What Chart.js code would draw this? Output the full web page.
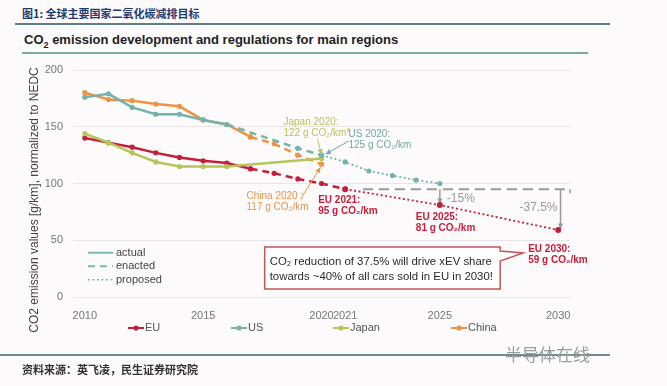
<!DOCTYPE html>
<html>
<head>
<meta charset="utf-8">
<script src="https://cdn.jsdelivr.net/npm/chart.js@4/dist/chart.umd.min.js"></script>
<style>
  body { margin: 0; width: 667px; height: 386px; overflow: hidden; position: relative; background: #fcfafb; font-family: "Liberation Sans", Arial, sans-serif; }
  #chart { position: absolute; left: 0; top: 0; }
  .abs { position: absolute; white-space: nowrap; }
  .rule { position: absolute; }
</style>
</head>
<body>
<div class="abs" style="left:22px;top:5px;font:bold 11px 'Noto Sans CJK SC';color:#1f3a6e;">图1: 全球主要国家二氧化碳减排目标</div>
<div class="rule" style="left:15px;top:23px;width:595px;height:2px;background:#5f7f86;"></div>
<div class="abs" style="left:24px;top:32px;font:bold 13px 'Liberation Sans';color:#222;">CO<sub style="font-size:9px">2</sub> emission development and regulations for main regions</div>
<div class="rule" style="left:22px;top:52px;width:566px;height:2px;background:#7aab9e;"></div>
<canvas id="chart" width="667" height="386"></canvas>
<div class="rule" style="left:0;top:354px;width:610px;height:2px;background:#6d8c8e;"></div>
<div class="abs" style="left:505px;top:341px;font:17px 'Noto Sans CJK SC';color:#9c9c9c;">半导体在线</div>
<div class="abs" style="left:22px;top:361px;font:bold 11px 'Noto Sans CJK SC';color:#333;">资料来源：英飞凌，民生证券研究院</div>
<script>
// ---- data ----
const xTicks = [2010, 2015, 2020, 2021, 2025, 2030];

const euYears = [2010, 2011, 2012, 2013, 2014, 2015, 2016, 2017];
const euActual = [140, 136, 132, 127, 123, 120, 118, 113];
const usYears = [2010, 2011, 2012, 2013, 2014, 2015, 2016];
const usActual = [176, 179, 167, 161, 161, 156, 152];
const japanYears = [2010, 2011, 2012, 2013, 2014, 2015, 2016, 2020];
const japanActual = [144, 136, 127, 119, 115, 115, 115, 122];
const chinaYears = [2010, 2011, 2012, 2013, 2014, 2015, 2016, 2017];
const chinaActual = [180, 174, 173, 170, 168, 156, 152, 141];

const euEnactedYears = [2017, 2018, 2019, 2020, 2021];
const euEnacted = [113, 109, 104, 100, 95];
const usEnactedYears = [2016, 2019, 2020];
const usEnacted = [152, 131, 125];
const chinaEnactedYears = [2017, 2018, 2019, 2020];
const chinaEnacted = [141, 135, 125, 117];

const usProposedYears = [2020, 2021, 2022, 2023, 2024, 2025];
const usProposed = [125, 119, 111, 107, 103, 100];
const euProposedYears = [2021, 2025, 2030];
const euProposed = [95, 81, 59];

const regions = ["EU", "US", "Japan", "China"];
const colors = { EU: "#c41e3a", US: "#74b3ab", Japan: "#b6c45a", China: "#eb9447" };

const pts = (xs, ys) => xs.map((v, i) => ({ x: v, y: ys[i] }));

function series(data, color, kind, extra) {
    const base = {
        data, borderColor: color, backgroundColor: color,
        pointRadius: 2.6, pointHoverRadius: 2.6, pointBorderWidth: 0,
        tension: 0, fill: false
    };
    if (kind === "actual") { base.borderWidth = 2.5; }
    if (kind === "enacted") { base.borderWidth = 2.5; base.borderDash = [7, 5]; }
    if (kind === "proposed") { base.borderWidth = 1.8; base.borderDash = [2, 2.5]; }
    return Object.assign(base, extra || {});
}

const arrowHead = (ctx, x1, y1, x2, y2, size) => {
    const a = Math.atan2(y2 - y1, x2 - x1);
    ctx.beginPath();
    ctx.moveTo(x2, y2);
    ctx.lineTo(x2 - size * Math.cos(a - 0.45), y2 - size * Math.sin(a - 0.45));
    ctx.lineTo(x2 - size * Math.cos(a + 0.45), y2 - size * Math.sin(a + 0.45));
    ctx.closePath();
    ctx.fill();
};

const arrow = (ctx, x1, y1, x2, y2, color, w) => {
    ctx.save();
    ctx.strokeStyle = color; ctx.fillStyle = color; ctx.lineWidth = w || 1;
    ctx.beginPath(); ctx.moveTo(x1, y1); ctx.lineTo(x2, y2); ctx.stroke();
    arrowHead(ctx, x1, y1, x2, y2, 6);
    ctx.restore();
};

const textLines = (ctx, lines, x, y, color, font, gap) => {
    ctx.save();
    ctx.fillStyle = color; ctx.font = font;
    ctx.textBaseline = "middle"; ctx.textAlign = "left";
    lines.forEach((t, i) => ctx.fillText(t, x, y + i * gap));
    ctx.restore();
};

// gray reduction brackets, behind the lines
const brackets = {
    id: "brackets",
    beforeDatasetsDraw(chart) {
        const { ctx, scales: { x, y } } = chart;
        const y95 = y.getPixelForValue(95);
        ctx.save();
        ctx.strokeStyle = "#9a9a9a"; ctx.fillStyle = "#9a9a9a"; ctx.lineWidth = 2;
        ctx.setLineDash([10, 6]);
        ctx.beginPath();
        ctx.moveTo(x.getPixelForValue(2021.75), y95);
        ctx.lineTo(x.getPixelForValue(2030.5), y95);
        ctx.stroke();
        ctx.setLineDash([]);
        ctx.lineWidth = 1.5;
        ctx.beginPath();
        ctx.moveTo(x.getPixelForValue(2030.5), y95);
        ctx.lineTo(x.getPixelForValue(2030.5), y95 + 4);
        ctx.stroke();
        ctx.restore();
        arrow(ctx, x.getPixelForValue(2025), y95, x.getPixelForValue(2025), y.getPixelForValue(82), "#9a9a9a", 1.5);
        arrow(ctx, x.getPixelForValue(2030.1), y95, x.getPixelForValue(2030.1), y.getPixelForValue(60), "#9a9a9a", 1.5);
    }
};

// labels, callout and legends
const notes = {
    id: "notes",
    afterDatasetsDraw(chart) {
        const { ctx, chartArea, scales: { x, y } } = chart;
        const px = v => x.getPixelForValue(v);
        const py = v => y.getPixelForValue(v);
        const small = "10px 'Liberation Sans'";

        // 2020 targets
        const jx = px(2020), jy = py(122);
        textLines(ctx, ["Japan 2020:", "122 g CO₂/km*"], jx - 38, jy - 36, colors.Japan, small, 11);
        arrow(ctx, jx - 4, jy - 19, jx, jy - 4, colors.Japan, 1);

        const ux = px(2020), uy = py(125);
        textLines(ctx, ["US 2020:", "125 g CO₂/km"], ux + 27, uy - 21, "#6fa9a2", small, 11);
        arrow(ctx, ux + 27, uy - 14, ux + 4, uy - 1, "#6fa9a2", 1);

        const cx = px(2020), cy = py(117);
        textLines(ctx, ["China 2020 :", "117 g CO₂/km"], cx - 75, cy + 32, colors.China, small, 11);
        arrow(ctx, cx - 21, cy + 35, cx - 1, cy + 3, colors.China, 1);

        // EU targets
        const bold = "bold 10px 'Liberation Sans'";
        textLines(ctx, ["EU 2021:", "95 g CO₂/km"], px(2021) - 27, py(95) + 11, colors.EU, bold, 11);
        textLines(ctx, ["EU 2025:", "81 g CO₂/km"], px(2025) - 24, py(81) + 12, colors.EU, bold, 11);
        textLines(ctx, ["EU 2030:", "59 g CO₂/km"], px(2030) - 30, py(59) + 19, colors.EU, bold, 11);

        textLines(ctx, ["-15%"], px(2025) + 7, py(87), "#9a9a9a", "12px 'Liberation Sans'", 0);
        ctx.save();
        ctx.font = "12px 'Liberation Sans'"; ctx.fillStyle = "#9a9a9a";
        ctx.textAlign = "right"; ctx.textBaseline = "middle";
        ctx.fillText("-37.5%", px(2030.1) - 3, py(79));
        ctx.restore();

        // callout box
        const bl = px(2017.6), br = px(2027.55), bt = py(44), bb = py(7);
        ctx.save();
        ctx.fillStyle = "#ffffff"; ctx.strokeStyle = "#c4555a"; ctx.lineWidth = 1.5;
        ctx.beginPath();
        ctx.moveTo(bl, bt); ctx.lineTo(br, bt); ctx.lineTo(br, bt + 4);
        ctx.lineTo(br + 23, bt + 6); ctx.lineTo(br, bt + 14);
        ctx.lineTo(br, bb); ctx.lineTo(bl, bb); ctx.closePath();
        ctx.fill(); ctx.stroke();
        ctx.restore();
        textLines(ctx, ["CO₂ reduction of 37.5% will drive xEV share", "towards ~40% of all cars sold in EU in 2030!"],
            bl + 5, bt + 15, "#2a2a2a", "11.4px 'Liberation Sans'", 15);

        // line style legend
        const lx = chartArea.left + 15;
        const styles = [["actual", []], ["enacted", [7, 5]], ["proposed", [2, 2.5]]];
        styles.forEach((s, i) => {
            const ly = py(39) + i * 13.5;
            ctx.save();
            ctx.strokeStyle = "#7ab8b0"; ctx.lineWidth = i === 2 ? 1.5 : 2;
            ctx.setLineDash(s[1]);
            ctx.beginPath(); ctx.moveTo(lx, ly); ctx.lineTo(lx + 25, ly); ctx.stroke();
            ctx.restore();
            textLines(ctx, [s[0]], lx + 28, ly, "#444", "11px 'Liberation Sans'", 0);
        });

        // region legend
        const legX = [128, 231, 333, 451];
        const legY = 328;
        regions.forEach((r, i) => {
            const c = colors[r];
            ctx.save();
            ctx.strokeStyle = c; ctx.fillStyle = c; ctx.lineWidth = 2;
            ctx.beginPath(); ctx.moveTo(legX[i], legY); ctx.lineTo(legX[i] + 16, legY); ctx.stroke();
            ctx.beginPath(); ctx.arc(legX[i] + 8, legY, 2.6, 0, Math.PI * 2); ctx.fill();
            ctx.restore();
            textLines(ctx, [r], legX[i] + 17, legY, "#555", "11px 'Liberation Sans'", 0);
        });

        // y axis title
        ctx.save();
        ctx.translate(35, 200);
        ctx.rotate(-Math.PI / 2);
        ctx.font = "12px 'Liberation Sans'"; ctx.fillStyle = "#444";
        ctx.textAlign = "center"; ctx.textBaseline = "middle";
        ctx.fillText("CO2 emission values [g/km], normalized to NEDC", 0, 0);
        ctx.restore();
    }
};

new Chart(document.getElementById("chart"), {
    type: "line",
    data: {
        datasets: [
            series(pts(usYears, usActual), colors.US, "actual"),
            series(pts(usEnactedYears, usEnacted), colors.US, "enacted", { pointRadius: c => c.dataIndex === 0 ? 0 : 2.6 }),
            series(pts(usProposedYears, usProposed), colors.US, "proposed"),
            series(pts(japanYears, japanActual), colors.Japan, "actual"),
            series(pts(chinaYears, chinaActual), colors.China, "actual"),
            series(pts(chinaEnactedYears, chinaEnacted), colors.China, "enacted"),
            series(pts(euYears, euActual), colors.EU, "actual"),
            series(pts(euEnactedYears, euEnacted), colors.EU, "enacted"),
            series(pts(euProposedYears, euProposed), colors.EU, "proposed", { pointRadius: 3 })
        ]
    },
    options: {
        responsive: false,
        animation: false,
        events: [],
        layout: { padding: { left: 0, top: 70, right: 97, bottom: 67 } },
        plugins: { legend: { display: false }, tooltip: { enabled: false } },
        scales: {
            x: {
                type: "linear", min: 2009.5, max: 2030.5,
                grid: { display: false }, border: { display: false },
                ticks: { color: "#777", font: { family: "Liberation Sans", size: 11 }, padding: 4, callback: v => String(v) },
                afterBuildTicks: a => { a.ticks = xTicks.map(v => ({ value: v })); },
                afterFit: s => { s.height = 22; }
            },
            y: {
                min: 0, max: 200,
                grid: { color: "#e6e6e6", drawTicks: false }, border: { display: false },
                ticks: { stepSize: 50, color: "#777", font: { family: "Liberation Sans", size: 11 }, padding: 10 },
                afterFit: s => { s.width = 73; }
            }
        }
    },
    plugins: [brackets, notes]
});
</script>
</body>
</html>
